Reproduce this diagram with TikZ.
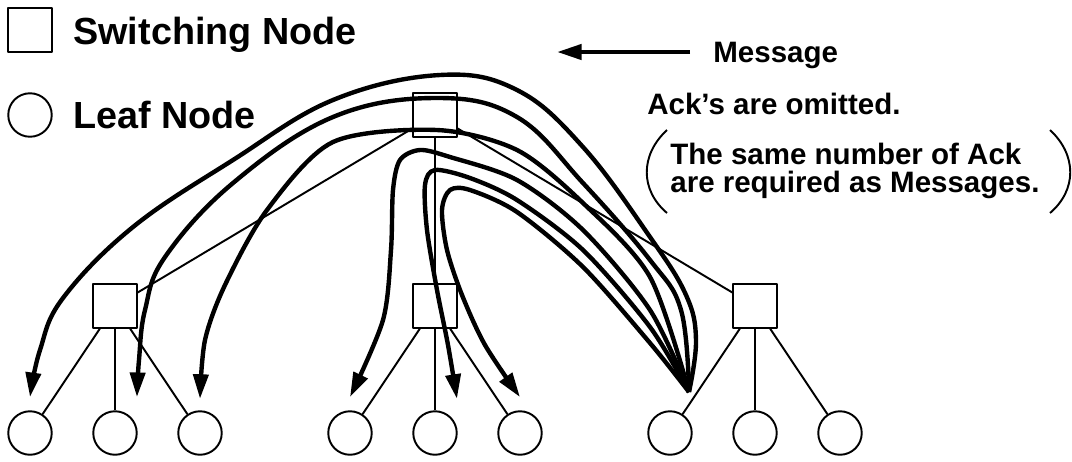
\documentclass[tikz,border=0pt]{standalone}
\usepackage{fontspec}
\setmainfont{Liberation Sans}
\usetikzlibrary{arrows.meta}
\newcommand{\keyfont}{\fontsize{21.5}{24}\bfseries\selectfont}
\newcommand{\notefont}{\fontsize{16.8}{19}\bfseries\selectfont}
\tikzset{
  switch/.style={draw, rectangle, line width=1.1pt, minimum size=0.87cm, inner sep=0pt},
  leaf/.style={draw, circle, line width=1.1pt, minimum size=0.87cm, inner sep=0pt},
  link/.style={line width=1.1pt},
  msg/.style={line width=2.5pt, -{Triangle[length=14pt, width=8.5pt]}},
  txt/.style={anchor=base west, inner sep=0pt},
}
\begin{document}
\begin{tikzpicture}[x=0.02cm, y=-0.02cm, line join=round]
        \useasboundingbox (0,0) rectangle (1072,461);
        \node[switch] (keysw)   at (30,30)  {};
        \node[leaf]   (keyleaf) at (30,115) {};
        \node[txt, font=\keyfont] (keyswtxt)   at (73,44)  {Switching Node};
        \node[txt, font=\keyfont] (keyleaftxt) at (73,128) {Leaf Node};
        \coordinate (msgtail) at (690,52);
        \coordinate (msghead) at (557,52);
        \draw[msg] (msgtail) -- (msghead);
        \node[txt, font=\notefont] (msgtxt)  at (713,62)  {Message};
        \node[txt, font=\notefont] (acktxt)  at (647,114) {Ack's are omitted.};
        \node[txt, font=\notefont] (noteone) at (670,164) {The same number of Ack};
        \node[txt, font=\notefont] (notetwo) at (670,192) {are required as Messages.};
        \draw[line width=1.1pt] (667,130) .. controls (640,155) and (640,190) .. (667,213);
        \draw[line width=1.1pt] (1050,130) .. controls (1077,155) and (1077,190) .. (1050,213);
        \node[switch] (root) at (435,115) {};
        \foreach \i/\x in {0/115,1/435,2/755} {
            \node[switch] (s\i) at (\x,306) {};
            \draw[link] (root) -- (s\i);
            \foreach \j/\dx in {0/-85,1/0,2/85} {
                \node[leaf] (l\i\j) at ({\x+(\dx)},433) {};
                \draw[link] (s\i) -- (l\i\j);
            }
        }
        \coordinate (src) at (689,392);
        \coordinate (t0) at ([yshift=7.5pt]l00.north);
        \coordinate (t1) at ([xshift=12.5pt, yshift=7.5pt]l01.north);
        \coordinate (t2) at ([yshift=6.5pt]l02.north);
        \coordinate (t3) at ([yshift=7.5pt]l10.north);
        \coordinate (t4) at ([xshift=12.5pt, yshift=6.5pt]l11.north);
        \coordinate (t5) at ([yshift=7.5pt]l12.north);
        \draw[msg] plot[smooth, tension=0.65] coordinates {(src) (696,340) (686,295) (650,237) (583,147) (517,90) (440,75)
            (333,100) (233,160) (133,227) (63,298) (40,350) (t0)};
        \draw[msg] plot[smooth, tension=0.65] coordinates {(src) (681,310) (650,260) (583,183) (517,117) (437,98)
            (333,117) (233,183) (165,257) (145,310) (139,360) (t1)};
        \draw[msg] plot[smooth] coordinates {(src) (650,277) (583,203) (517,150) (437,130)
            (333,142) (267,210) (225,285) (205,340) (t2)};
        \draw[msg] plot[smooth] coordinates {(src) (650,310) (583,230) (517,180) (450,157) (420,150)
            (400,160) (393,190) (391,250) (383,320) (t3)};
        \draw[msg] plot[smooth] coordinates {(src) (650,327) (583,250) (517,200) (470,178) (435,170)
            (425,185) (427,230) (437,290) (448,345) (t4)};
        \draw[msg] plot[smooth] coordinates {(src) (650,343) (583,267) (517,212) (470,190) (450,190)
            (442,210) (447,250) (462,295) (485,345) (t5)};
\end{tikzpicture}
\end{document}
